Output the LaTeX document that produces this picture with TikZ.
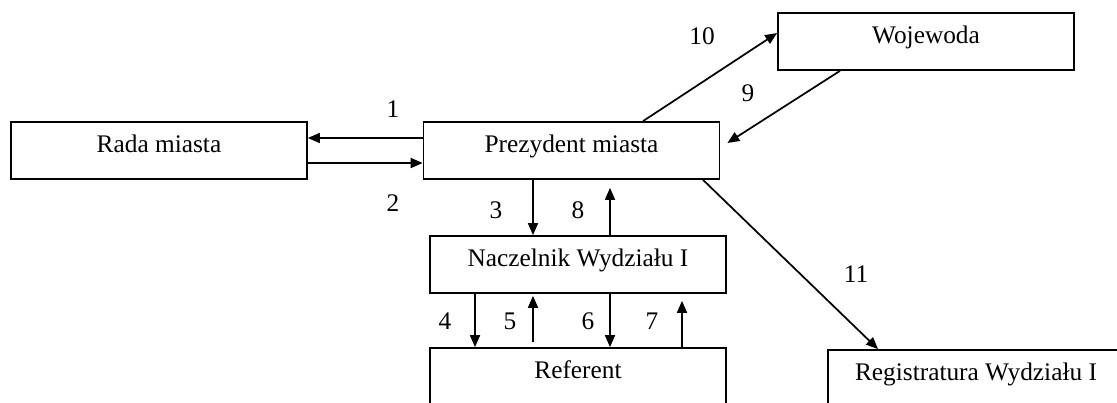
\documentclass[tikz,border=0pt]{standalone}
\usepackage{fontspec}
\setmainfont{Liberation Serif}
\usetikzlibrary{arrows.meta,calc}
\begin{document}
\begin{tikzpicture}[x=0.75pt,y=-0.75pt,
  box/.style={draw,line width=1.3pt,minimum width=222pt,minimum height=42.75pt,
    inner sep=0pt,text height=0.7em,text depth=0.42em,
    font=\fontsize{19}{23}\selectfont},
  num/.style={inner sep=0pt,font=\fontsize{19}{23}\selectfont},
  link/.style={line width=1.3pt,-{Triangle[length=9pt,width=7.5pt]}}]
\useasboundingbox (0,0) rectangle (1117,403);
\clip (0,0) rectangle (1117,403);
% boxes
\node[box] (rada) at (159,150.5) {Rada miasta};
\node[box] (prez) at (571.5,150.5) {Prezydent miasta};
\node[box] (woj)  at (926,41.5) {Wojewoda};
\node[box] (nacz) at (578,264.5) {Naczelnik Wydziału I};
\node[box] (ref)  at (578,376.5) {Referent};
\node[box] (reg)  at (976,378.5) {Registratura Wydziału I};
% connectors
\draw[link] ($(prez.west)+(0,-12.5)$) -- ($(rada.east)+(0,-12.5)$);
\draw[link] ($(rada.east)+(0,12.5)$) -- ($(prez.west)+(0,12.5)$);
\draw[link] ($(prez.north)+(71.5,0)$) -- ($(woj.west)+(0,-8.5)$);
\draw[link] ($(woj.south)+(-86,0)$) -- ($(prez.east)+(7,-7.5)$);
\draw[link] ($(prez.south)+(-38.5,0)$) -- ($(nacz.north)+(-45,0)$);
\draw[link] ($(nacz.north)+(32,0)$) -- ($(prez.south)+(38.5,8)$);
\draw[link] ($(nacz.south)+(-103,0)$) -- ($(ref.north)+(-103,0)$);
\draw[link] ($(ref.north)+(-45,-5)$) -- ($(nacz.south)+(-45,2)$);
\draw[link] ($(nacz.south)+(32,0)$) -- ($(ref.north)+(32,0)$);
\draw[link] ($(ref.north)+(104,0)$) -- ($(nacz.south)+(104,7)$);
\draw[link] ($(prez.south)+(131.5,0)$) -- ($(reg.north)+(-98,0)$);
% step numbers
\node[num] (n1)  at (393,109) {1};
\node[num] (n2)  at (393,203.5) {2};
\node[num] (n3)  at (496,210) {3};
\node[num] (n4)  at (445,321) {4};
\node[num] (n5)  at (510,321) {5};
\node[num] (n6)  at (588,321) {6};
\node[num] (n7)  at (652,321) {7};
\node[num] (n8)  at (578,210) {8};
\node[num] (n9)  at (748,93) {9};
\node[num] (n10) at (702,36) {10};
\node[num] (n11) at (856,274) {11};
\end{tikzpicture}
\end{document}
